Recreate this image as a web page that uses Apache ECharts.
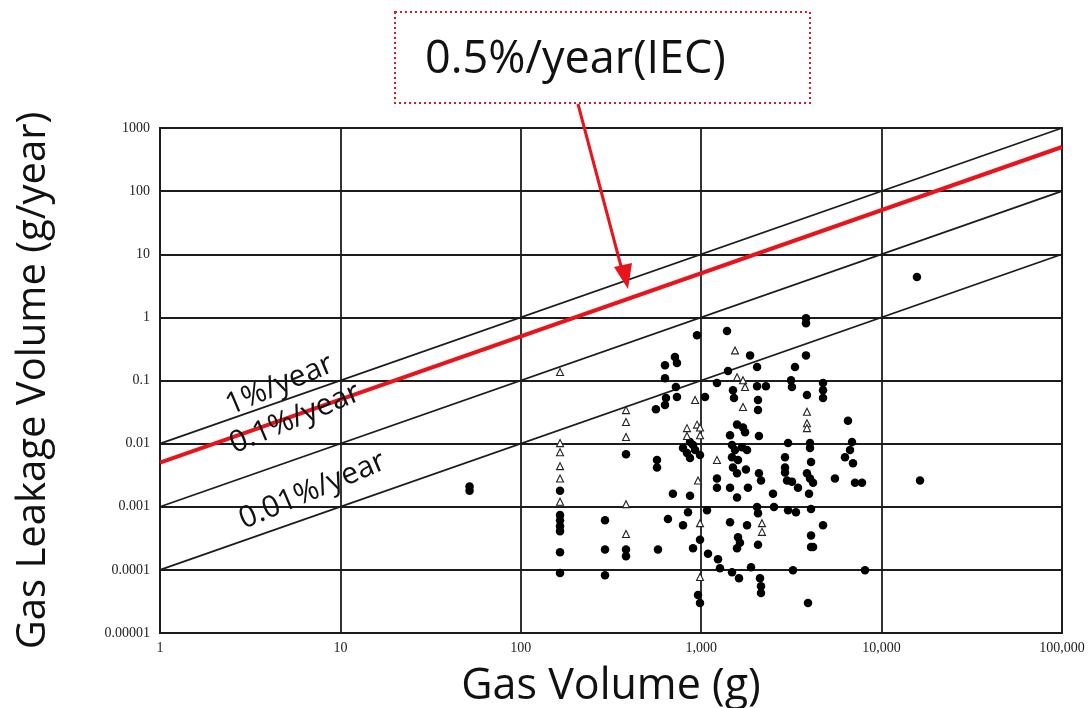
<!DOCTYPE html>
<html><head><meta charset="utf-8">
<script src="https://cdn.jsdelivr.net/npm/echarts@6/dist/echarts.min.js"></script>
<style>html,body{margin:0;padding:0;background:#fff}#c{width:1090px;height:708px}</style>
</head><body><div id="c"></div>
<script>
// Tick labels
const xTickLabels = ['1','10','100','1,000','10,000','100,000'];
const yTickLabels = ['0.00001','0.0001','0.001','0.01','0.1','1','10','100','1000'];
// Rate lines (leakage fraction per year)
const rateNames = ['1%/year','0.5%/year(IEC)','0.1%/year','0.01%/year'];
const rateValues = [0.01, 0.005, 0.001, 0.0001];
// Filled dots [gas volume g, leakage g/year]
const dotData = [
 [52,0.0021],[52,0.0018],
 [165,0.0018],[165,0.00074],[165,0.00061],[165,0.00049],[165,0.00041],[165,0.00019],[165,0.000089],
 [293,0.00061],[293,0.00021],[293,0.000082],
 [383,0.0068],[383,0.00021],[383,0.000165],
 [948,0.52],[715,0.235],[734,0.19],[630,0.175],[630,0.109],[724,0.079],[734,0.055],[638,0.053],[630,0.041],[561,0.035],
 [1223,0.091],[1050,0.055],
 [867,0.0106],[901,0.0095],[793,0.0085],[834,0.0071],[867,0.0059],[925,0.0079],[985,0.0066],
 [569,0.0055],[569,0.0042],[1223,0.0028],[1223,0.0020],[697,0.0016],[867,0.0015],[1077,0.00088],[845,0.00082],
 [654,0.00064],[793,0.00051],[985,0.00030],[576,0.00021],[901,0.00022],[1091,0.00018],[1239,0.000148],
 [960,0.000040],[985,0.000030],
 [1390,0.61],[1866,0.25],[2040,0.163],[1408,0.141],[2040,0.081],[2285,0.081],[1500,0.070],[1520,0.053],
 [2065,0.049],[2065,0.034],[1580,0.020],[1705,0.018],[1750,0.0152],[1445,0.0136],[2090,0.0132],
 [1482,0.0095],[1540,0.0079],[1683,0.0088],[1795,0.0079],[1482,0.0061],[1600,0.0055],[1500,0.0042],
 [1770,0.0039],[1580,0.0034],[2090,0.0034],[2145,0.0026],[1445,0.0020],[1816,0.0020],[2500,0.0016],[2533,0.00099],
 [1580,0.0014],[2040,0.00099],[2065,0.00079],[1445,0.00057],[1795,0.00051],[1600,0.00033],[1640,0.00027],
 [1580,0.00022],[2065,0.00025],[1271,0.000106],[1482,0.000092],[1620,0.000074],[1889,0.00011],
 [2118,0.000074],[2145,0.000055],[2145,0.000043],
 [3810,0.97],[3810,0.81],[3810,0.25],[3311,0.163],[3148,0.101],[3185,0.079],[4735,0.091],[4735,0.070],[4735,0.053],
 [3857,0.059],[6510,0.023],[3030,0.0102],[4010,0.0102],[4010,0.0085],[6855,0.0106],[6680,0.0079],[6266,0.0061],
 [6940,0.0049],[2915,0.0061],[2915,0.0042],[4063,0.0051],[2915,0.0035],[2990,0.0026],[3185,0.0025],[3440,0.0020],
 [3857,0.0034],[4010,0.0028],[4169,0.0024],[5512,0.0028],[7122,0.0024],[7786,0.0024],[3960,0.0016],
 [3030,0.00088],[3350,0.00082],[4063,0.00092],[4735,0.00051],[4063,0.00035],[4063,0.00023],[4169,0.00023],
 [3226,0.000099],[8090,0.000099],[3908,0.000030],
 [15700,4.35],[16330,0.0026]
];
// Open triangles [gas volume g, leakage g/year]
const triData = [
 [165,0.136],[165,0.0102],[165,0.0073],[165,0.0044],[165,0.0028],[165,0.0012],
 [383,0.034],[383,0.022],[383,0.0127],[383,0.0011],[383,0.00037],
 [925,0.049],[948,0.020],[985,0.018],[834,0.0176],[834,0.0132],[985,0.0136],
 [1223,0.0055],[960,0.0026],[985,0.00055],[985,0.000077],
 [1540,0.30],[1580,0.113],[1705,0.101],[1750,0.079],[1705,0.038],[2172,0.00055],[2172,0.00040],
 [3857,0.032],[3857,0.021],[3857,0.0176]
];
// Line label anchor points [x, y] in data units
const lineLabelPos = [[4.6,0.085],[5.6,0.025],[7.0,0.0018]];
const lineLabelText = ['1%/year','0.1%/year','0.01%/year'];

const xMin = 1, xMax = 100000;
const chart = echarts.init(document.getElementById('c'), null, {renderer:'canvas'});
const lineColor = '#1c1c1c';
const series = rateValues.map((r,i)=>({
  type:'line', name: rateNames[i], data:[[xMin, r*xMin],[xMax, r*xMax]],
  symbol:'none', silent:true, z: i===1?5:3,
  lineStyle:{color: i===1?'#e8141b':lineColor, width: i===1?4:1.8}
}));
series.push({type:'scatter', name:'dots', data: dotData, symbol:'circle', symbolSize:8.5,
  itemStyle:{color:'#000', opacity:1}, z:6});
series.push({type:'scatter', name:'tri', data: triData, symbol:'triangle', symbolSize:7,
  itemStyle:{color:'#fff', borderColor:'#222', borderWidth:1.1, opacity:1}, z:7});
series.push({type:'scatter', name:'lineLabels', symbolSize:0, z:8,
  itemStyle:{opacity:1},
  data: lineLabelPos.map((p,i)=>({value:p, name: lineLabelText[i]})),
  label:{show:true, position:'inside', formatter: p=>p.name, rotate:23,
    fontFamily:'Open Sans', fontSize:30, color:'#111'}});

chart.setOption({
  backgroundColor:'#fff',
  animation:false,
  grid:{left:160, right:28, top:128, bottom:75, show:true, borderColor:lineColor, borderWidth:1.8,
    containLabel:false, outerBoundsMode:'none'},
  xAxis:{type:'log', logBase:10, min:xMin, max:xMax,
    name:'Gas Volume (g)', nameLocation:'middle', nameGap:32,
    nameTextStyle:{fontFamily:'Open Sans', fontSize:43, color:'#111'},
    axisLine:{show:true, lineStyle:{color:lineColor, width:1.8}},
    axisTick:{show:false}, minorTick:{show:false},
    splitLine:{show:true, lineStyle:{color:lineColor, width:1.8}},
    axisLabel:{fontFamily:'Liberation Serif', fontSize:14, color:'#222', margin:8,
      formatter: v=>xTickLabels[Math.round(Math.log10(v))]}},
  yAxis:{type:'log', logBase:10, min:0.00001, max:1000,
    name:'Gas Leakage Volume (g/year)', nameLocation:'middle', nameGap:106, nameRotate:90,
    nameTextStyle:{fontFamily:'Open Sans', fontSize:40, color:'#111'},
    axisLine:{show:true, lineStyle:{color:lineColor, width:1.8}},
    axisTick:{show:false}, minorTick:{show:false},
    splitLine:{show:true, lineStyle:{color:lineColor, width:1.8}},
    axisLabel:{fontFamily:'Liberation Serif', fontSize:14, color:'#222', margin:10,
      formatter: v=>yTickLabels[Math.round(Math.log10(v))+5]}},
  series: series,
  graphic:[
    {type:'rect', shape:{x:395, y:12, width:415, height:91},
     style:{fill:'#fff', stroke:'#c8202a', lineWidth:2, lineDash:[2,3]}, z:10},
    {type:'text', x:425, y:60, style:{text: rateNames[1], fontFamily:'Open Sans', fontSize:45,
      fill:'#111', verticalAlign:'middle'}, z:11},
    {type:'line', shape:{x1:578, y1:104, x2:622, y2:270}, style:{stroke:'#e8141b', lineWidth:3}, z:11},
    {type:'polygon', shape:{points:[[628,289],[614,267],[632,263]]}, style:{fill:'#e8141b'}, z:11}
  ]
});
</script></body></html>
